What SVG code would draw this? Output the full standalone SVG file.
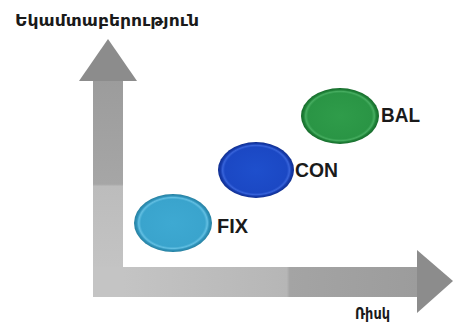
<svg xmlns="http://www.w3.org/2000/svg" width="456" height="329" viewBox="0 0 456 329">
<style>
.lbl{font-family:"Liberation Sans",Arial,sans-serif;font-weight:bold;font-size:20px;fill:#1a1a1a}
.arm{font-family:"DejaVu Sans","Noto Sans",sans-serif;font-weight:bold;fill:#1a1a1a}
.head{fill:#8c8c8c}
</style>
<defs>
<linearGradient id="vbar" x1="0" y1="0" x2="0" y2="1">
<stop offset="0" stop-color="#9c9c9c"/>
<stop offset="0.48" stop-color="#a6a6a6"/>
<stop offset="0.49" stop-color="#bcbcbc"/>
<stop offset="1" stop-color="#c6c6c6"/>
</linearGradient>
<linearGradient id="hbar" x1="0" y1="0" x2="1" y2="0">
<stop offset="0" stop-color="#c4c4c4"/>
<stop offset="0.555" stop-color="#b6b6b6"/>
<stop offset="0.565" stop-color="#a4a4a4"/>
<stop offset="1" stop-color="#9c9c9c"/>
</linearGradient>
<radialGradient id="gG" cx="0.5" cy="0.5" r="0.5">
<stop offset="0" stop-color="#2f9c4a"/>
<stop offset="0.82" stop-color="#2a9545"/>
<stop offset="0.88" stop-color="#46ad60"/>
<stop offset="0.93" stop-color="#1f8238"/>
<stop offset="1" stop-color="#166a2b"/>
</radialGradient>
<radialGradient id="gB" cx="0.5" cy="0.5" r="0.5">
<stop offset="0" stop-color="#1e4fcc"/>
<stop offset="0.82" stop-color="#1b48c4"/>
<stop offset="0.88" stop-color="#3763da"/>
<stop offset="0.93" stop-color="#163cae"/>
<stop offset="1" stop-color="#102e8e"/>
</radialGradient>
<radialGradient id="gC" cx="0.5" cy="0.5" r="0.5">
<stop offset="0" stop-color="#3ea9d2"/>
<stop offset="0.82" stop-color="#3aa4cd"/>
<stop offset="0.88" stop-color="#62bfe2"/>
<stop offset="0.93" stop-color="#2f93bb"/>
<stop offset="1" stop-color="#27809f"/>
</radialGradient>
</defs>
<rect width="456" height="329" fill="#ffffff"/>
<g id="axes">
<rect x="93" y="80" width="30" height="217" fill="url(#vbar)"/>
<rect x="123" y="267" width="295" height="30" fill="url(#hbar)"/>
<rect x="93" y="267" width="30" height="30" fill="#c4c4c4"/>
<polygon class="head" points="108,39 137,81 79,81"/>
<polygon class="head" points="453,281 417,250 417,313"/>
</g>
<g id="node-bal">
<ellipse cx="340" cy="116" rx="39" ry="28" fill="url(#gG)"/>
<text class="lbl" x="381" y="122" textLength="39" lengthAdjust="spacingAndGlyphs">BAL</text>
</g>
<g id="node-con">
<ellipse cx="256" cy="170" rx="38" ry="28" fill="url(#gB)"/>
<text class="lbl" x="295" y="177" textLength="43" lengthAdjust="spacingAndGlyphs">CON</text>
</g>
<g id="node-fix">
<ellipse cx="173" cy="223" rx="39" ry="29" fill="url(#gC)"/>
<text class="lbl" x="217" y="233" textLength="31" lengthAdjust="spacingAndGlyphs">FIX</text>
</g>
<g id="labels">
<text class="arm" x="15" y="26" font-size="15" textLength="184" lengthAdjust="spacingAndGlyphs">Եկամտաբերություն</text>
<text class="arm" x="355" y="319" font-size="15" textLength="35" lengthAdjust="spacingAndGlyphs">Ռիսկ</text>
</g>
</svg>
